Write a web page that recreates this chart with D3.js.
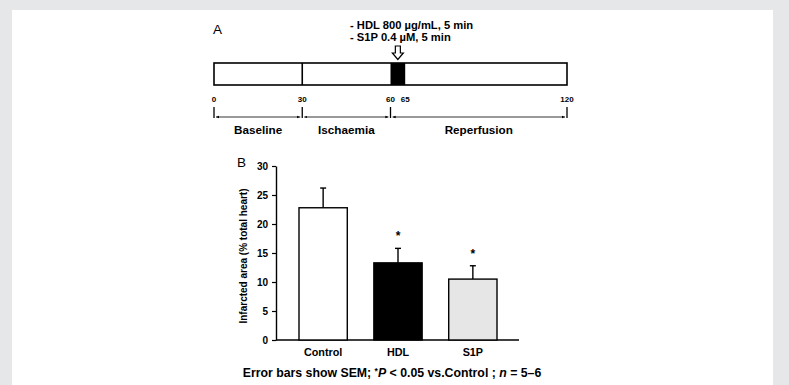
<!DOCTYPE html>
<html>
<head>
<meta charset="utf-8">
<script src="https://cdn.jsdelivr.net/npm/d3@7"></script>
<style>
  body { margin: 0; background: #e6e7e8; }
  svg { display: block; font-family: "Liberation Sans", Arial, sans-serif; }
</style>
</head>
<body>
<svg id="chart" width="789" height="385"></svg>
<script>
// panel A - protocol timeline (minutes)
const timeTicks = [0, 30, 60, 65, 120];
const phaseNames = ["Baseline", "Ischaemia", "Reperfusion"];
const phaseStarts = [0, 30, 60];
const phaseEnds = [30, 60, 120];
const treatWindow = [60, 65];
const treatLines = ["- HDL 800 \u00b5g/mL, 5 min", "- S1P 0.4 \u00b5M, 5 min"];

// panel B - infarct size
const groups = ["Control", "HDL", "S1P"];
const means = [22.8, 13.3, 10.5];
const sems = [3.4, 2.5, 2.3];
const signif = [false, true, true];
const barFills = ["#ffffff", "#000000", "#e6e6e6"];
const yTicks = [0, 5, 10, 15, 20, 25, 30];

const svg = d3.select("#chart");

// white panel on grey page
svg.append("rect")
    .attr("x", 12).attr("y", 10)
    .attr("width", 761).attr("height", 380)
    .attr("fill", "#fff");

// ---------- A ----------
let tx = d3.scaleLinear().domain([0, 120]).range([214, 567]);
let barTop = 63, barBot = 85;

svg.append("text").attr("x", 213).attr("y", 34)
    .attr("font-size", 13.5).text("A");

let treat = svg.append("g").attr("font-size", 11.2).attr("font-weight", "bold");
treat.selectAll("text").data(treatLines).enter().append("text")
    .attr("x", 350)
    .attr("y", (d, i) => 29 + i * 12)
    .text(d => d);

// hollow arrow
let ax = tx((treatWindow[0] + treatWindow[1]) / 2);
svg.append("path")
    .attr("d", `M${ax - 2.5},46 L${ax + 2.5},46 L${ax + 2.5},53 L${ax + 5.5},53 L${ax},59.5 L${ax - 5.5},53 L${ax - 2.5},53 Z`)
    .attr("fill", "#fff").attr("stroke", "#000").attr("stroke-width", 1.2);

svg.append("rect")
    .attr("x", tx(0)).attr("y", barTop)
    .attr("width", tx(120) - tx(0)).attr("height", barBot - barTop)
    .attr("fill", "#fff").attr("stroke", "#000").attr("stroke-width", 1.6);

svg.append("line")
    .attr("x1", tx(30)).attr("x2", tx(30))
    .attr("y1", barTop).attr("y2", barBot)
    .attr("stroke", "#000").attr("stroke-width", 1.6);

svg.append("rect")
    .attr("x", tx(treatWindow[0])).attr("y", barTop)
    .attr("width", tx(treatWindow[1]) - tx(treatWindow[0])).attr("height", barBot - barTop)
    .attr("fill", "#000");

svg.append("g").attr("font-size", 8).attr("font-weight", "bold").attr("fill", "#000")
    .selectAll("text").data(timeTicks).enter().append("text")
    .attr("x", d => tx(d)).attr("y", 102)
    .attr("text-anchor", "middle")
    .text(d => d);

// brackets
let bY = 117;
let bounds = [0, 30, 60, 120];
svg.append("g").selectAll("line").data(bounds).enter().append("line")
    .attr("x1", d => tx(d)).attr("x2", d => tx(d))
    .attr("y1", 107).attr("y2", bY + 1)
    .attr("stroke", "#000").attr("stroke-width", 1.3);

svg.append("defs").append("marker")
    .attr("id", "ah").attr("viewBox", "0 0 10 10")
    .attr("refX", 10).attr("refY", 5)
    .attr("markerWidth", 4).attr("markerHeight", 4)
    .attr("orient", "auto-start-reverse")
    .append("path").attr("d", "M0,1 L10,5 L0,9 Z").attr("fill", "#000");

svg.append("g").selectAll("line").data(phaseNames).enter().append("line")
    .attr("x1", (d, i) => tx(phaseStarts[i]) + 2)
    .attr("x2", (d, i) => tx(phaseEnds[i]) - 2)
    .attr("y1", bY).attr("y2", bY)
    .attr("stroke", "#000").attr("stroke-width", 0.8)
    .attr("marker-start", "url(#ah)").attr("marker-end", "url(#ah)");

svg.append("g").attr("font-size", 11.7).attr("font-weight", "bold")
    .selectAll("text").data(phaseNames).enter().append("text")
    .attr("x", (d, i) => (tx(phaseStarts[i]) + tx(phaseEnds[i])) / 2)
    .attr("y", 134)
    .attr("text-anchor", "middle")
    .text(d => d);

// ---------- B ----------
let y = d3.scaleLinear().domain([0, 30]).range([340, 166]);
let x = d3.scaleBand().domain(groups).range([299, 497]).paddingInner(0.355);

svg.append("text").attr("x", 237).attr("y", 167)
    .attr("font-size", 13.5).text("B");

let yAxis = svg.append("g")
    .attr("transform", "translate(276,0)")
    .call(d3.axisLeft(y).tickValues(yTicks).tickSize(4).tickSizeOuter(0).tickPadding(4));
yAxis.select(".domain").attr("stroke-width", 1.4);
yAxis.selectAll(".tick line").attr("stroke-width", 1.2);
yAxis.selectAll("text")
    .attr("font-family", "Liberation Sans, Arial, sans-serif")
    .attr("font-size", 10).attr("font-weight", "bold");

svg.append("line")
    .attr("x1", 276).attr("x2", 519)
    .attr("y1", y(0)).attr("y2", y(0))
    .attr("stroke", "#000").attr("stroke-width", 1.4);

svg.append("text")
    .attr("transform", `translate(247,${(y(0) + y(30)) / 2 + 3}) rotate(-90)`)
    .attr("text-anchor", "middle")
    .attr("font-size", 10).attr("font-weight", "bold")
    .text("Infarcted area (% total heart)");

// error bars first so the bar outline sits on top
let errs = svg.append("g").attr("stroke", "#000").attr("stroke-width", 1.4);
groups.forEach((g, i) => {
    let cx = x(g) + x.bandwidth() / 2;
    errs.append("line")
        .attr("x1", cx).attr("x2", cx)
        .attr("y1", y(means[i])).attr("y2", y(means[i] + sems[i]));
    errs.append("line")
        .attr("x1", cx - 3).attr("x2", cx + 3)
        .attr("y1", y(means[i] + sems[i])).attr("y2", y(means[i] + sems[i]));
});

svg.append("g").selectAll("rect").data(groups).enter().append("rect")
    .attr("x", d => x(d))
    .attr("y", (d, i) => y(means[i]))
    .attr("width", x.bandwidth())
    .attr("height", (d, i) => y(0) - y(means[i]))
    .attr("fill", (d, i) => barFills[i])
    .attr("stroke", "#000").attr("stroke-width", 1.4);

svg.append("g").attr("font-size", 12).attr("font-weight", "bold")
    .selectAll("text").data(groups.filter((g, i) => signif[i])).enter().append("text")
    .attr("x", d => x(d) + x.bandwidth() / 2)
    .attr("y", d => y(means[groups.indexOf(d)] + sems[groups.indexOf(d)]) - 8)
    .attr("text-anchor", "middle")
    .text("*");

svg.append("g").attr("font-size", 10.8).attr("font-weight", "bold")
    .selectAll("text").data(groups).enter().append("text")
    .attr("x", d => x(d) + x.bandwidth() / 2)
    .attr("y", 356)
    .attr("text-anchor", "middle")
    .text(d => d);

let note = svg.append("text")
    .attr("x", 392).attr("y", 377)
    .attr("text-anchor", "middle")
    .attr("font-size", 12.3).attr("font-weight", "bold");
note.append("tspan").text("Error bars show SEM; ");
note.append("tspan").attr("font-size", 8.5).attr("dy", -3).text("*");
note.append("tspan").attr("font-style", "italic").attr("dy", 3).text("P");
note.append("tspan").text(" < 0.05 vs.Control ; ");
note.append("tspan").attr("font-style", "italic").text("n");
note.append("tspan").text(" = 5\u20136");
</script>
</body>
</html>
